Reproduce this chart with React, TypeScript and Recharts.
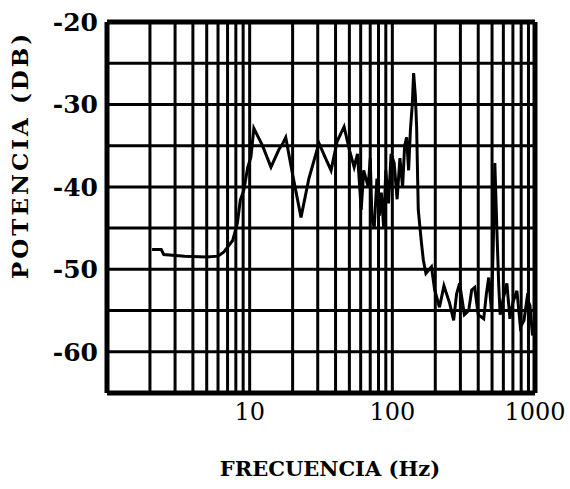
import {
	Label,
	Line,
	LineChart,
	ReferenceLine,
	XAxis,
	YAxis,
} from 'recharts'

// frequency (Hz) and power (dB)
const freq = [
	2.07, 2.4, 2.5, 3.5, 5.0, 6.0, 6.6, 7.6, 8.2, 8.6, 9.1, 9.7, 10.2, 10.7, 12.3,
	14.1, 16.0, 17.1, 17.9, 20.0, 22.9, 26.0, 30.6, 34.0, 37.2, 41.0, 45.9, 50.0,
	54.0, 57.0, 60.5, 63.0, 67.8, 70.0, 72.0, 74.7, 78.0, 81.0, 83.7, 87.0, 90.0,
	94.0, 98.0, 103, 108, 113, 118, 122, 126, 130, 134, 138, 141, 145, 148, 152,
	160, 165, 172, 188, 198, 214, 230, 252, 269, 282, 296, 320, 343, 360, 378,
	400, 437, 456, 474, 495, 510, 523, 540, 557, 570, 600, 635, 667, 700, 747,
	790, 837, 880, 922, 960, 1000,
]
const power = [
	-47.6, -47.6, -48.2, -48.4, -48.5, -48.4, -47.9, -46.5, -44.4, -41.6, -40.4,
	-37.6, -36.4, -32.9, -35.0, -37.6, -35.5, -34.7, -34.0, -38.5, -43.7, -39.0,
	-34.7, -36.5, -38.0, -34.5, -32.7, -35.5, -37.6, -36.0, -42.8, -38.0, -40.0,
	-36.5, -44.0, -44.9, -39.0, -43.5, -40.7, -45.0, -38.0, -42.0, -36.0, -37.1,
	-41.5, -36.5, -40.0, -35.0, -34.0, -38.0, -33.0, -30.0, -26.2, -29.0, -32.7,
	-42.8, -46.8, -48.9, -50.5, -49.7, -52.5, -54.6, -52.0, -54.1, -56.2, -53.0,
	-51.7, -55.5, -55.0, -52.5, -52.2, -55.5, -56.0, -53.0, -51.0, -55.0, -47.0,
	-37.1, -45.0, -52.0, -55.5, -53.5, -51.7, -56.0, -54.0, -52.6, -57.0, -56.2,
	-53.5, -54.4, -58.0, -57.0,
]

const xTicks = [10, 100, 1000]
const yTicks = [-20, -30, -40, -50, -60]
const xGrid = [
	2, 3, 4, 5, 6, 7, 8, 9, 10, 20, 30, 40, 50, 60, 70, 80, 90, 100, 200, 300,
	400, 500, 600, 700, 800, 900,
]
const yGrid = [-25, -30, -35, -40, -45, -50, -55, -60]
const xBorder = [1, 1000]
const yBorder = [-20, -65]

const data = freq.map((f, i) => ({ f, p: power[i] }))

const serif = "'DejaVu Serif', 'Liberation Serif', serif"

const App = () => {
	return (
		<div style={{ position: 'absolute', left: 0, top: 0, background: '#fff' }}>
			<LineChart
				width={570}
				height={489}
				data={data}
				margin={{ top: 22, right: 35, left: 30, bottom: 66 }}
			>
				<XAxis
					dataKey='f'
					type='number'
					scale='log'
					domain={[1, 1000]}
					ticks={xTicks}
					allowDataOverflow
					height={30}
					axisLine={false}
					tickLine={false}
					tickSize={0}
					tickMargin={10}
					tick={{ fill: '#000', fontSize: 24, fontFamily: serif }}
				>
					<Label
						content={() => (
							<text
								x={330}
								y={476}
								textAnchor='middle'
								fontFamily={serif}
								fontWeight='bold'
								fontSize={21}
								fill='#000'
							>
								FRECUENCIA (Hz)
							</text>
						)}
					/>
				</XAxis>
				<YAxis
					type='number'
					domain={[-65, -20]}
					ticks={yTicks}
					allowDataOverflow
					width={77}
					axisLine={false}
					tickLine={false}
					tickSize={0}
					tickMargin={9}
					tick={{
						fill: '#000',
						fontSize: 25,
						fontWeight: 'bold',
						fontFamily: serif,
					}}
				>
					<Label
						content={() => (
							<text
								x={28}
								y={155}
								transform='rotate(-90 28 155)'
								textAnchor='middle'
								fontFamily={serif}
								fontWeight='bold'
								fontSize={23}
								letterSpacing={3}
								fill='#000'
							>
								POTENCIA (DB)
							</text>
						)}
					/>
				</YAxis>
				{xGrid.map((v) => (
					<ReferenceLine key={'x' + v} x={v} stroke='#000' strokeWidth={3} />
				))}
				{yGrid.map((v) => (
					<ReferenceLine key={'y' + v} y={v} stroke='#000' strokeWidth={3} />
				))}
				{xBorder.map((v) => (
					<ReferenceLine key={'bx' + v} x={v} stroke='#000' strokeWidth={5} />
				))}
				{yBorder.map((v) => (
					<ReferenceLine key={'by' + v} y={v} stroke='#000' strokeWidth={5} />
				))}
				<Line
					type='linear'
					dataKey='p'
					stroke='#000'
					strokeWidth={3}
					dot={false}
					isAnimationActive={false}
				/>
			</LineChart>
		</div>
	)
}

export default App
